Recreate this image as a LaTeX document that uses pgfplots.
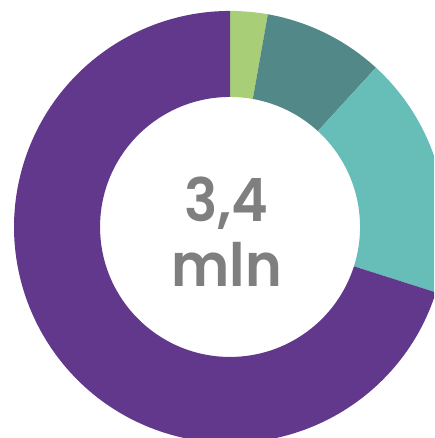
\documentclass[border=0pt]{standalone}
\usepackage{pgfplots}
\usepackage{pgfplotstable}
\pgfplotsset{compat=1.18}
\usepackage{fontspec}
\newfontfamily\lbl{Poppins}[UprightFont=* SemiBold, FakeStretch=0.93]

\definecolor{cgreen}{HTML}{A8CF78}
\definecolor{cteal}{HTML}{528888}
\definecolor{clteal}{HTML}{67BDB7}
\definecolor{cpurple}{HTML}{61388B}
\definecolor{ctext}{HTML}{7F7F7F}

% shares of the total, in percent, clockwise from the top
\pgfplotstableread{
segment share
A 2.8
B 9.0
C 18.1
D 70.1
}\shares

\begin{document}
\begin{tikzpicture}
% cumulative angles (degrees, clockwise from 12 o'clock)
\pgfplotstablegetelem{0}{share}\of\shares \let\sA\pgfplotsretval
\pgfplotstablegetelem{1}{share}\of\shares \let\sB\pgfplotsretval
\pgfplotstablegetelem{2}{share}\of\shares \let\sC\pgfplotsretval
\pgfplotstablegetelem{3}{share}\of\shares \let\sD\pgfplotsretval
\pgfmathsetmacro\aA{90}
\pgfmathsetmacro\aB{\aA-3.6*\sA}
\pgfmathsetmacro\aC{\aB-3.6*\sB}
\pgfmathsetmacro\aD{\aC-3.6*\sC}
\pgfmathsetmacro\aE{\aD-3.6*\sD}
\def\Ro{4.32cm}
\def\Ri{2.60cm}
\def\Rw{1.72cm}
\begin{axis}[
  anchor=south west, at={(0,0)},
  x=0.02cm, y=0.02cm,
  xmin=0, xmax=434, ymin=0, ymax=438,
  hide axis, clip=true,
]
\fill[cgreen]  (axis cs:230,211) ++(\aA:\Ro) arc[start angle=\aA, end angle=\aB, radius=\Ro] -- ++(\aB:-\Rw) arc[start angle=\aB, end angle=\aA, radius=\Ri] -- cycle;
\fill[cteal]   (axis cs:230,211) ++(\aB:\Ro) arc[start angle=\aB, end angle=\aC, radius=\Ro] -- ++(\aC:-\Rw) arc[start angle=\aC, end angle=\aB, radius=\Ri] -- cycle;
\fill[clteal]  (axis cs:230,211) ++(\aC:\Ro) arc[start angle=\aC, end angle=\aD, radius=\Ro] -- ++(\aD:-\Rw) arc[start angle=\aD, end angle=\aC, radius=\Ri] -- cycle;
\fill[cpurple] (axis cs:230,211) ++(\aD:\Ro) arc[start angle=\aD, end angle=\aE, radius=\Ro] -- ++(\aE:-\Rw) arc[start angle=\aE, end angle=\aD, radius=\Ri] -- cycle;
\node[anchor=base, text=ctext, font=\lbl\fontsize{34}{34}\selectfont, inner sep=0pt] at (axis cs:226.5,216) {3,4};
\node[anchor=base, text=ctext, font=\lbl\fontsize{34}{34}\selectfont, inner sep=0pt] at (axis cs:226.5,151) {mln};
\end{axis}
\pgfresetboundingbox
\path[use as bounding box] (0,0) rectangle (8.68cm,8.76cm);
\end{tikzpicture}
\end{document}
